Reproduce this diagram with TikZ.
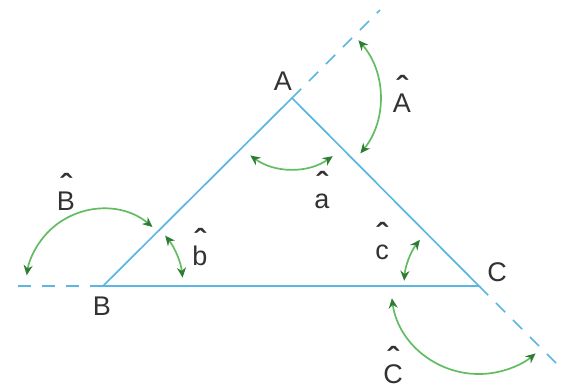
\documentclass[tikz,border=0pt]{standalone}
\usepackage{fontspec}
\setmainfont{Liberation Sans}
\usetikzlibrary{arrows.meta}
\definecolor{lineblue}{RGB}{90,182,226}
\definecolor{arcgreen}{RGB}{98,188,98}
\definecolor{tipgreen}{RGB}{45,125,50}
\definecolor{txt}{RGB}{50,50,50}
\newcommand\hatl[1]{\begin{tabular}[b]{@{}c@{}}{\bfseries\scalebox{1.25}[1.1]{\char"02C6}}\\[-0.58em]#1\end{tabular}}
\tikzset{
  side/.style={draw=lineblue,line width=1.7pt},
  ext/.style={draw=lineblue,line width=1.7pt,dash pattern=on 13pt off 11pt},
  angarrow/.style={draw=arcgreen,line width=1.7pt,
    {Stealth[length=10pt,width=9pt,color=tipgreen,fill=tipgreen]}-{Stealth[length=10pt,width=9pt,color=tipgreen,fill=tipgreen]}},
  lbl/.style={text=txt,font=\fontsize{27}{30}\selectfont,inner sep=0pt}
}
\begin{document}
\begin{tikzpicture}[x=1pt,y=-1pt]
\useasboundingbox (0,0) rectangle (563,389);
\coordinate (A) at (292,98);
\coordinate (B) at (103,286);
\coordinate (C) at (479,286);
\coordinate (Aext) at (380,10);
\coordinate (Bext) at (12,286);
\coordinate (Cext) at (562,369);
% dashed extensions
\draw[ext] (A) -- (Aext);
\draw[ext] (B) -- (Bext);
\draw[ext] (C) -- (Cext);
% triangle
\draw[side] (A) -- (B) -- (C) -- cycle;
% angle arrows
\draw[angarrow] ([shift={(-41:88)}]A) arc[start angle=-41,end angle=39,radius=88];
\draw[angarrow] ([shift={(126:71)}]A) arc[start angle=126,end angle=55,radius=71];
\draw[angarrow] ([shift={(-50:77)}]B) arc[start angle=-50,end angle=-172,radius=77];
\draw[angarrow] ([shift={(-39:80)}]B) arc[start angle=-39,end angle=-6,radius=80];
\draw[angarrow] ([shift={(-142:75)}]C) arc[start angle=-142,end angle=-176,radius=75];
\draw[angarrow] ([shift={(-188:88)}]C) arc[start angle=-188,end angle=-310,radius=88];
% labels
\node[lbl] (lA) at (283,81) {A};
\node[lbl] (lB) at (102,306) {B};
\node[lbl] (lC) at (497,272) {C};
\node[lbl,anchor=base] (lAh) at (402,112) {\hatl{A}};
\node[lbl,anchor=base] (lah) at (322,208) {\hatl{a}};
\node[lbl,anchor=base] (lBh) at (66,210) {\hatl{B}};
\node[lbl,anchor=base] (lbh) at (200,265) {\hatl{b}};
\node[lbl,anchor=base] (lch) at (382,259) {\hatl{c}};
\node[lbl,anchor=base] (lCh) at (393,383) {\hatl{C}};
\end{tikzpicture}
\end{document}
